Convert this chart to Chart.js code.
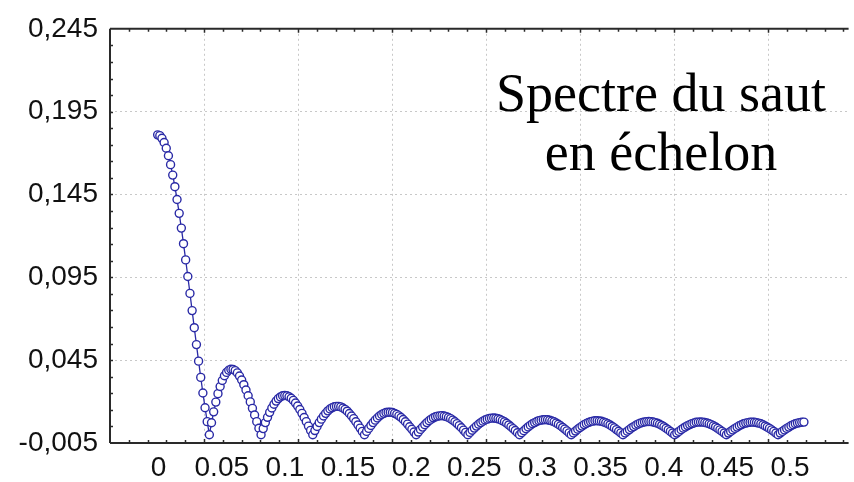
<!DOCTYPE html>
<html>
<head>
<meta charset="utf-8">
<script src="https://cdn.jsdelivr.net/npm/chart.js@4/dist/chart.umd.min.js"></script>
<style>
  html, body { margin: 0; padding: 0; background: #ffffff; overflow: hidden; }
  #wrap { position: relative; width: 854px; height: 482px; }
  #title {
    position: absolute; left: 480px; width: 362px; top: 64px;
    text-align: center; font-family: "Liberation Serif", "Times New Roman", serif;
    font-size: 54px; line-height: 59px; color: #000;
  }
</style>
</head>
<body>
<div id="wrap">
  <canvas id="c" width="854" height="482"></canvas>
  <div id="title">Spectre du saut<br>en échelon</div>
</div>
<script>
// Spectrum magnitude, one value per frequency bin
const amplitude = [
  0.1810, 0.1805, 0.1789, 0.1764, 0.1729, 0.1684, 0.1630, 0.1567, 0.1497, 0.1420, 0.1336, 0.1247,
  0.1153, 0.1055, 0.0955, 0.0853, 0.0749, 0.0646, 0.0544, 0.0444, 0.0346, 0.0252, 0.0163, 0.0079,
  0.0000, 0.0072, 0.0138, 0.0197, 0.0248, 0.0291, 0.0327, 0.0356, 0.0376, 0.0389, 0.0395, 0.0394,
  0.0387, 0.0373, 0.0354, 0.0330, 0.0302, 0.0270, 0.0235, 0.0198, 0.0159, 0.0119, 0.0079, 0.0039,
  0.0000, 0.0037, 0.0073, 0.0105, 0.0135, 0.0161, 0.0184, 0.0203, 0.0218, 0.0228, 0.0235, 0.0237,
  0.0235, 0.0229, 0.0220, 0.0207, 0.0191, 0.0173, 0.0152, 0.0129, 0.0104, 0.0079, 0.0052, 0.0026,
  0.0000, 0.0025, 0.0050, 0.0073, 0.0094, 0.0113, 0.0129, 0.0144, 0.0155, 0.0163, 0.0169, 0.0171,
  0.0171, 0.0168, 0.0161, 0.0153, 0.0142, 0.0128, 0.0113, 0.0097, 0.0078, 0.0059, 0.0040, 0.0020,
  0.0000, 0.0020, 0.0038, 0.0056, 0.0073, 0.0088, 0.0101, 0.0113, 0.0122, 0.0129, 0.0134, 0.0136,
  0.0136, 0.0134, 0.0129, 0.0123, 0.0114, 0.0104, 0.0092, 0.0078, 0.0064, 0.0048, 0.0033, 0.0016,
  0.0000, 0.0016, 0.0032, 0.0046, 0.0060, 0.0073, 0.0084, 0.0094, 0.0102, 0.0108, 0.0112, 0.0114,
  0.0115, 0.0113, 0.0109, 0.0104, 0.0097, 0.0088, 0.0078, 0.0067, 0.0055, 0.0042, 0.0028, 0.0014,
  0.0000, 0.0014, 0.0027, 0.0040, 0.0052, 0.0063, 0.0073, 0.0082, 0.0089, 0.0094, 0.0098, 0.0100,
  0.0101, 0.0099, 0.0096, 0.0092, 0.0085, 0.0078, 0.0069, 0.0059, 0.0048, 0.0037, 0.0025, 0.0012,
  0.0000, 0.0012, 0.0024, 0.0036, 0.0047, 0.0057, 0.0066, 0.0073, 0.0080, 0.0085, 0.0088, 0.0090,
  0.0091, 0.0090, 0.0087, 0.0083, 0.0078, 0.0071, 0.0063, 0.0054, 0.0044, 0.0034, 0.0023, 0.0011,
  0.0000, 0.0011, 0.0022, 0.0033, 0.0043, 0.0052, 0.0061, 0.0068, 0.0074, 0.0078, 0.0082, 0.0084,
  0.0084, 0.0083, 0.0081, 0.0077, 0.0072, 0.0066, 0.0059, 0.0050, 0.0041, 0.0031, 0.0021, 0.0011,
  0.0000, 0.0011, 0.0021, 0.0031, 0.0041, 0.0049, 0.0057, 0.0064, 0.0070, 0.0074, 0.0077, 0.0079,
  0.0080, 0.0079, 0.0077, 0.0073, 0.0069, 0.0063, 0.0056, 0.0048, 0.0039, 0.0030, 0.0020, 0.0010,
  0.0000, 0.0010, 0.0020, 0.0030, 0.0039, 0.0047, 0.0055, 0.0061, 0.0067, 0.0071, 0.0075, 0.0076,
  0.0077, 0.0076, 0.0074, 0.0071, 0.0066, 0.0061, 0.0054, 0.0047, 0.0038, 0.0029, 0.0020, 0.0010,
  0.0000, 0.0010, 0.0020, 0.0029, 0.0038, 0.0046, 0.0054, 0.0060, 0.0066, 0.0070, 0.0073, 0.0075,
  0.0076, 0.0075, 0.0073, 0.0070, 0.0066, 0.0060, 0.0053, 0.0046, 0.0038, 0.0029, 0.0020, 0.0010,
  0.0000, 0.0010, 0.0020, 0.0029, 0.0038, 0.0046, 0.0054, 0.0060, 0.0066, 0.0070, 0.0073, 0.0075,
  0.0076
];
// Sample (bin) index of each value
const bins = amplitude.map((_, i) => i);

// Axis ticks
const freqTicks  = [0, 0.05, 0.1, 0.15, 0.2, 0.25, 0.3, 0.35, 0.4, 0.45, 0.5];
const freqLabels = ['0', '0.05', '0.1', '0.15', '0.2', '0.25', '0.3', '0.35', '0.4', '0.45', '0.5'];
const yTicks     = [-0.005, 0.045, 0.095, 0.145, 0.195, 0.245];
const gridTicks  = [50, 100, 150, 200, 250, 300, 350];

const LINE = '#2a2aa6';
const FRAME = '#2a2a2a';

const framePlugin = {
  id: 'frame',
  afterDraw(chart) {
    const { ctx, chartArea: a, scales } = chart;
    const xg = scales.xg, y = scales.y;
    ctx.save();
    ctx.strokeStyle = FRAME;
    ctx.lineWidth = 2;
    ctx.beginPath();
    ctx.moveTo(a.left, a.top); ctx.lineTo(a.right, a.top);
    ctx.moveTo(a.left, a.top); ctx.lineTo(a.left, a.bottom);
    ctx.moveTo(a.left, a.bottom); ctx.lineTo(a.right, a.bottom);
    ctx.stroke();
    ctx.lineWidth = 1.5;
    ctx.beginPath();
    for (let v = 10; v <= xg.max; v += 10) {
      const px = Math.round(xg.getPixelForValue(v)) + 0.5;
      const len = (v % 50 === 0) ? 4 : 3;
      ctx.moveTo(px, a.bottom); ctx.lineTo(px, a.bottom - len);
      ctx.moveTo(px, a.top); ctx.lineTo(px, a.top + len);
    }
    for (let k = 1; k < 25; k++) {
      const v = -0.005 + k * 0.01;
      const py = Math.round(y.getPixelForValue(v)) + 0.5;
      ctx.moveTo(a.left, py); ctx.lineTo(a.left + 3, py);
    }
    ctx.stroke();
    ctx.restore();
  }
};

new Chart(document.getElementById('c'), {
  type: 'line',
  data: {
    datasets: [{
      data: amplitude.map((v, i) => ({ x: bins[i], y: v })),
      xAxisID: 'x', yAxisID: 'y',
      borderColor: LINE, borderWidth: 1.3,
      pointRadius: 4, pointBorderWidth: 1.4,
      pointBackgroundColor: '#ffffff', pointBorderColor: LINE,
      tension: 0, fill: false
    }]
  },
  options: {
    responsive: false, animation: false, devicePixelRatio: 1,
    layout: { padding: { top: 25, right: 0, left: 0, bottom: 0 } },
    plugins: { legend: { display: false }, tooltip: { enabled: false } },
    scales: {
      x: { type: 'linear', display: false, min: -22.12, max: 320.74 },
      xg: {
        type: 'linear', position: 'bottom', min: 0, max: 392.8,
        afterBuildTicks(s) { s.ticks = gridTicks.map(v => ({ value: v })); },
        grid: { color: '#c8c8c8', lineWidth: 1, drawTicks: false },
        border: { display: false, dash: [2, 3] },
        ticks: { display: false }
      },
      xf: {
        type: 'linear', position: 'bottom', min: -0.03852, max: 0.54638,
        afterBuildTicks(s) { s.ticks = freqTicks.map(v => ({ value: v })); },
        afterFit(s) { s.height = 39; },
        grid: { display: false, drawTicks: false },
        border: { display: false },
        ticks: {
          padding: 8, color: '#111', maxRotation: 0, autoSkip: false,
          font: { family: '"Liberation Sans", Arial, sans-serif', size: 28 },
          callback: (v, i) => freqLabels[i]
        }
      },
      y: {
        type: 'linear', min: -0.005, max: 0.245,
        afterBuildTicks(s) { s.ticks = yTicks.map(v => ({ value: v })); },
        afterFit(s) { s.width = 110; },
        grid: { color: '#c8c8c8', lineWidth: 1, drawTicks: false },
        border: { display: false, dash: [2, 3] },
        ticks: {
          padding: 12, color: '#111',
          font: { family: '"Liberation Sans", Arial, sans-serif', size: 28 },
          callback: v => v.toFixed(3).replace('.', ',')
        }
      }
    }
  },
  plugins: [framePlugin]
});
</script>
</body>
</html>
